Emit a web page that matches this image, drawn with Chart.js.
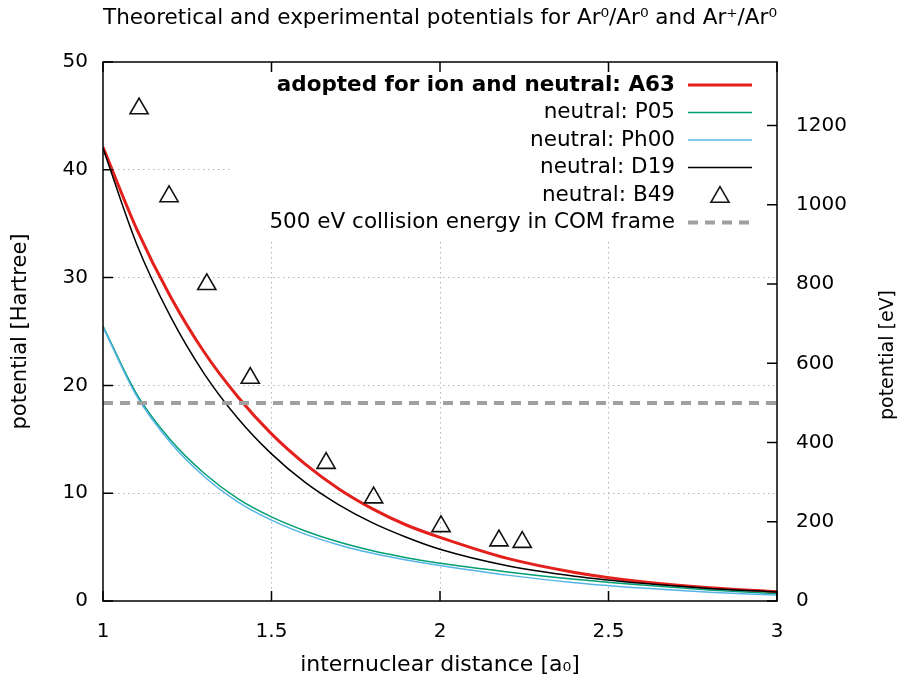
<!DOCTYPE html>
<html>
<head>
<meta charset="utf-8">
<script src="https://cdn.jsdelivr.net/npm/chart.js@4.4.0/dist/chart.umd.min.js"></script>
<style>
  body { margin: 0; background: #fff; }
  canvas { display: block; }
</style>
</head>
<body>
<canvas id="chart" width="906" height="686"></canvas>
<script>
// values (Hartree vs a0)
const distance = [1.0, 1.1, 1.2, 1.3, 1.4, 1.5, 1.6, 1.7, 1.8, 1.9, 2.0, 2.2, 2.4, 2.6, 2.8, 3.0];
const a63  = [42.1, 34.5, 28.25, 23.1, 18.95, 15.5, 12.7, 10.4, 8.55, 7.05, 5.9, 3.95, 2.65, 1.78, 1.22, 0.86];
const p05  = [25.5, 19.2, 14.95, 11.85, 9.5, 7.8, 6.5, 5.47, 4.66, 4.02, 3.5, 2.7, 2.02, 1.48, 1.03, 0.68];
const ph00 = [25.4, 19.0, 14.7, 11.55, 9.2, 7.5, 6.2, 5.2, 4.42, 3.8, 3.3, 2.4, 1.7, 1.2, 0.82, 0.55];
const d19  = [42.0, 33.1, 26.4, 21.1, 16.96, 13.65, 11.0, 8.92, 7.25, 5.92, 4.8, 3.27, 2.3, 1.64, 1.17, 0.84];

const b49Distance  = [1.107, 1.196, 1.308, 1.437, 1.662, 1.803, 2.003, 2.175, 2.244];
const b49Potential = [45.68, 37.53, 29.38, 20.68, 12.79, 9.59, 6.92, 5.60, 5.46];

const comDistance = [1, 3];
const comEnergy = [500, 500]; // eV

const evTicks = [0, 200, 400, 600, 800, 1000, 1200];
const HARTREE_EV = 27.2114;
const fontFamily = "'DejaVu Sans', Verdana, sans-serif";

function pts(xs, ys) {
    return xs.map((x, i) => ({ x: x, y: ys[i] }));
}

const keyEntries = [
    { text: 'adopted for ion and neutral: A63', bold: true, ds: 0 },
    { text: 'neutral: P05', ds: 1 },
    { text: 'neutral: Ph00', ds: 2 },
    { text: 'neutral: D19', ds: 3 },
    { text: 'neutral: B49', ds: 4 },
    { text: '500 eV collision energy in COM frame', ds: 5 }
];

const gnuplotFrame = {
    id: 'gnuplotFrame',
    beforeDatasetsDraw(chart) {
        const ctx = chart.ctx;
        const area = chart.chartArea;
        // opaque key box
        ctx.save();
        ctx.fillStyle = '#fff';
        ctx.fillRect(233, area.top + 1, area.right - 234, 240 - area.top);
        ctx.restore();
    },
    afterDraw(chart) {
        const ctx = chart.ctx;
        const area = chart.chartArea;
        const sx = chart.scales.x, sy = chart.scales.y, sy2 = chart.scales.y2;
        const tl = 10;
        ctx.save();
        ctx.strokeStyle = '#000';
        ctx.lineWidth = 1.5;
        ctx.strokeRect(area.left, area.top, area.right - area.left, area.bottom - area.top);
        ctx.beginPath();
        sx.ticks.forEach(t => {
            const px = sx.getPixelForValue(t.value);
            ctx.moveTo(px, area.bottom); ctx.lineTo(px, area.bottom - tl);
            ctx.moveTo(px, area.top); ctx.lineTo(px, area.top + tl);
        });
        sy.ticks.forEach(t => {
            const py = sy.getPixelForValue(t.value);
            ctx.moveTo(area.left, py); ctx.lineTo(area.left + tl, py);
        });
        sy2.ticks.forEach(t => {
            const py = sy2.getPixelForValue(t.value);
            ctx.moveTo(area.right, py); ctx.lineTo(area.right - tl, py);
        });
        ctx.stroke();

        // right axis title, reading upward
        ctx.fillStyle = '#000';
        ctx.font = '19px ' + fontFamily;
        ctx.textAlign = 'center';
        ctx.textBaseline = 'middle';
        ctx.translate(888, 355);
        ctx.rotate(-Math.PI / 2);
        ctx.fillText('potential [eV]', 0, 0);
        ctx.restore();

        // key
        const textRight = 675, sampleL = 688, sampleR = 752;
        ctx.save();
        keyEntries.forEach((e, i) => {
            const y = 85 + i * 27.5;
            const ds = chart.data.datasets[e.ds];
            ctx.fillStyle = '#000';
            ctx.font = (e.bold ? 'bold ' : '') + '21.5px ' + fontFamily;
            ctx.textAlign = 'right';
            ctx.textBaseline = 'middle';
            ctx.fillText(e.text, textRight, y);
            if (ds.showLine === false) {
                ctx.strokeStyle = ds.pointBorderColor;
                ctx.fillStyle = 'rgba(0,0,0,0)';
                Chart.helpers.drawPoint(ctx, {
                    pointStyle: 'triangle', radius: ds.pointRadius,
                    borderWidth: ds.pointBorderWidth, rotation: 0
                }, (sampleL + sampleR) / 2, y + 2);
            } else {
                ctx.strokeStyle = ds.borderColor;
                ctx.lineWidth = ds.borderWidth;
                ctx.setLineDash(ds.borderDash || []);
                ctx.beginPath();
                ctx.moveTo(sampleL, y);
                ctx.lineTo(sampleR, y);
                ctx.stroke();
                ctx.setLineDash([]);
            }
        });
        ctx.restore();
    }
};

const lineBase = { showLine: true, pointRadius: 0, cubicInterpolationMode: 'monotone', fill: false };
const tickFont = { family: fontFamily, size: 20 };
const gridColor = edges => ctx => (ctx.tick && edges.includes(ctx.tick.value)) ? 'rgba(0,0,0,0)' : '#b4b4b4';

new Chart(document.getElementById('chart').getContext('2d'), {
    type: 'scatter',
    data: {
        datasets: [
            Object.assign({ label: 'A63', data: pts(distance, a63), borderColor: '#e3201b', borderWidth: 3, order: 6 }, lineBase),
            Object.assign({ label: 'P05', data: pts(distance, p05), borderColor: '#009e73', borderWidth: 1.5, order: 5 }, lineBase),
            Object.assign({ label: 'Ph00', data: pts(distance, ph00), borderColor: '#56b4e9', borderWidth: 1.5, order: 4 }, lineBase),
            Object.assign({ label: 'D19', data: pts(distance, d19), borderColor: '#000', borderWidth: 1.5, order: 3 }, lineBase),
            {
                label: 'B49', data: pts(b49Distance, b49Potential), showLine: false,
                pointStyle: 'triangle', pointRadius: 10.5, pointHoverRadius: 10.5,
                pointBorderColor: '#111', pointBackgroundColor: 'rgba(0,0,0,0)', pointBorderWidth: 1.6, order: 2
            },
            Object.assign({ label: 'COM', data: pts(comDistance, comEnergy), yAxisID: 'y2',
                borderColor: '#a0a0a0', borderWidth: 4, borderDash: [10, 7], order: 1 }, lineBase)
        ]
    },
    options: {
        responsive: false,
        animation: false,
        devicePixelRatio: 1,
        layout: { padding: 0 },
        plugins: {
            legend: { display: false },
            tooltip: { enabled: false },
            title: {
                display: true,
                fullSize: false,
                text: 'Theoretical and experimental potentials for Ar⁰/Ar⁰ and Ar⁺/Ar⁰',
                color: '#000',
                font: { family: fontFamily, size: 22, weight: 'normal' },
                padding: { top: 5, bottom: 30.6 }
            }
        },
        scales: {
            x: {
                type: 'linear', min: 1, max: 3,
                ticks: { stepSize: 0.5, color: '#000', font: tickFont, padding: 19, maxRotation: 0, callback: v => String(v) },
                grid: { drawTicks: false, color: gridColor([1, 3]) },
                border: { display: false, dash: [1.5, 3.5] },
                title: { display: true, text: 'internuclear distance [a₀]', color: '#000', font: { family: fontFamily, size: 22 }, padding: { top: 4, bottom: 8 } },
                afterFit: s => { s.height = 85; }
            },
            y: {
                type: 'linear', position: 'left', min: 0, max: 50,
                ticks: { stepSize: 10, color: '#000', font: tickFont, padding: 15, callback: v => String(v) },
                grid: { drawTicks: false, color: gridColor([0, 50]) },
                border: { display: false, dash: [1.5, 3.5] },
                title: { display: true, text: 'potential [Hartree]', color: '#000', font: { family: fontFamily, size: 21 }, padding: { top: 8, bottom: 0 } },
                afterFit: s => { s.width = 103; }
            },
            y2: {
                type: 'linear', position: 'right', min: 0, max: 50 * HARTREE_EV,
                afterBuildTicks: s => { s.ticks = evTicks.map(v => ({ value: v })); },
                ticks: { color: '#000', font: tickFont, padding: 19, callback: v => String(v) },
                grid: { display: false, drawTicks: false },
                border: { display: false },
                afterFit: s => { s.width = 129; }
            }
        }
    },
    plugins: [gnuplotFrame]
});
</script>
</body>
</html>
